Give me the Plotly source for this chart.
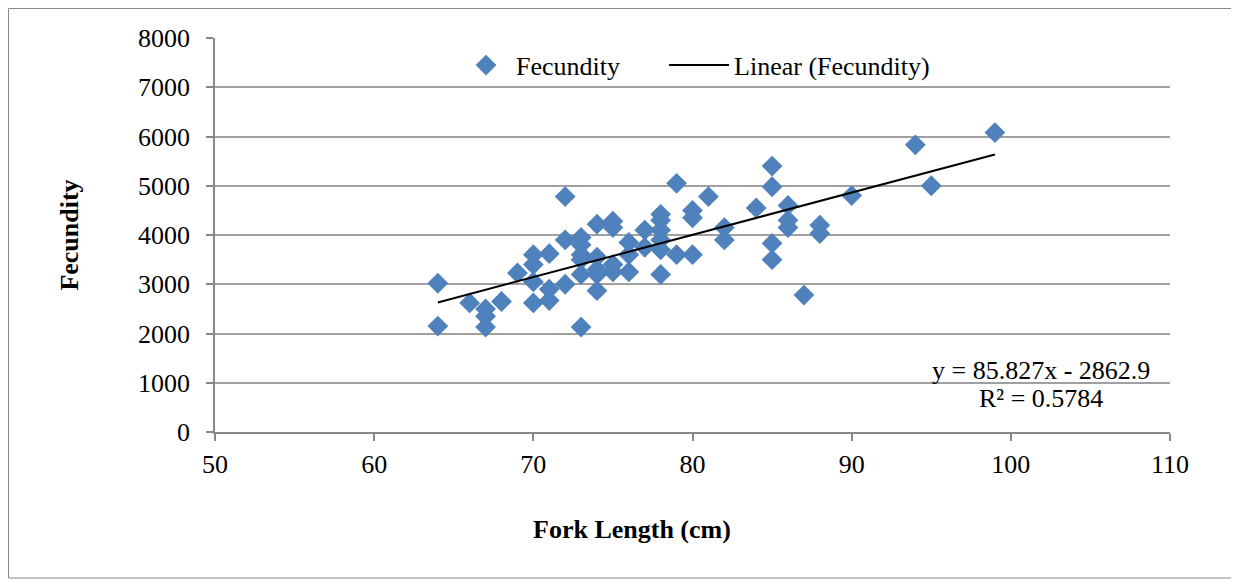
import plotly.graph_objects as go

fork_length = [64, 64, 66, 67, 67, 67, 68, 69,
               70, 70, 70, 70, 71, 71, 71, 72, 72, 72,
               73, 73, 73, 73, 73, 73, 74, 74, 74, 74, 74,
               75, 75, 75, 75, 76, 76, 76, 77, 77,
               78, 78, 78, 78, 78, 78, 79, 79, 80, 80, 80, 81,
               82, 82, 84, 85, 85, 85, 85, 86, 86, 86, 87, 88, 88,
               90, 94, 95, 99]
fecundity = [3020, 2150, 2620, 2500, 2350, 2130, 2650, 3230,
             3600, 3400, 3050, 2620, 3620, 2900, 2670, 4780, 3900, 3000,
             3950, 3800, 3600, 3500, 3200, 2130, 4220, 3550, 3300, 3200, 2870,
             4280, 4150, 3400, 3250, 3850, 3600, 3250, 4100, 3750,
             4420, 4300, 4100, 3900, 3700, 3200, 5050, 3600, 4500, 4350, 3600, 4780,
             4150, 3900, 4550, 5400, 4980, 3830, 3500, 4600, 4300, 4150, 2780, 4200, 4030,
             4800, 5830, 5000, 6080]

slope = 85.827
intercept = -2862.9
r_squared = 0.5784

x_ticks = [50, 60, 70, 80, 90, 100, 110]
y_ticks = [0, 1000, 2000, 3000, 4000, 5000, 6000, 7000, 8000]

x_line = [min(fork_length), max(fork_length)]
y_line = [slope * v + intercept for v in x_line]

FONT = "Liberation Serif, Times New Roman, serif"
FS = 26

fig = go.Figure()
fig.add_trace(go.Scatter(
    x=fork_length, y=fecundity, mode="markers", name="Fecundity", legend="legend",
    marker=dict(symbol="diamond", size=16, color="#4F81BD", line=dict(width=0)),
))
fig.add_trace(go.Scatter(
    x=x_line, y=y_line, mode="lines", name="Linear (Fecundity)", legend="legend2",
    line=dict(color="black", width=2),
))

fig.update_layout(
    width=1231, height=573,
    margin=dict(l=207, r=69, t=30, b=149),
    paper_bgcolor="white", plot_bgcolor="white",
    font=dict(family=FONT, size=FS, color="black"),
    showlegend=True,
    legend=dict(orientation="h", x=0.2524, y=0.931, xanchor="left", yanchor="middle",
                bgcolor="rgba(0,0,0,0)", font=dict(size=FS), itemwidth=50),
    legend2=dict(orientation="h", x=0.4702, y=0.931, xanchor="left", yanchor="middle",
                 bgcolor="rgba(0,0,0,0)", font=dict(size=FS), itemwidth=60),
    xaxis=dict(range=[50, 110], tickvals=x_ticks, showgrid=False, zeroline=False,
               showline=True, linecolor="#888888", linewidth=1.5,
               ticks="outside", ticklen=7, tickcolor="#888888", tickwidth=1.5,
               ticklabelstandoff=1, tickfont=dict(size=FS)),
    yaxis=dict(range=[0, 8000], tickvals=y_ticks, showgrid=True, gridcolor="#A0A0A0",
               gridwidth=1.5, zeroline=False, showline=True, linecolor="#888888",
               linewidth=1.5, ticks="outside", ticklen=7, tickcolor="#888888", tickwidth=1.5,
               ticklabelstandoff=11,
               title=dict(text="<b>Fecundity</b>", font=dict(size=FS), standoff=52),
               tickfont=dict(size=FS)),
    annotations=[
        dict(x=0.4366, y=-0.2487, xref="paper", yref="paper", xanchor="center", yanchor="middle",
             text="<b>Fork Length (cm)</b>", showarrow=False, font=dict(size=FS)),
        dict(x=0.865, y=0.155, xref="paper", yref="paper", xanchor="center", yanchor="middle",
             text=f"y = {slope}x - {abs(intercept)}", showarrow=False, font=dict(size=FS)),
        dict(x=0.865, y=0.084, xref="paper", yref="paper", xanchor="center", yanchor="middle",
             text=f"R² = {r_squared}", showarrow=False, font=dict(size=FS)),
    ],
    shapes=[dict(type="rect", xref="paper", yref="paper",
                 x0=-0.2162, x1=1.069, y0=-0.3706, y1=1.0749,
                 line=dict(color="#888888", width=1))],
)

fig.write_html("out.html")
